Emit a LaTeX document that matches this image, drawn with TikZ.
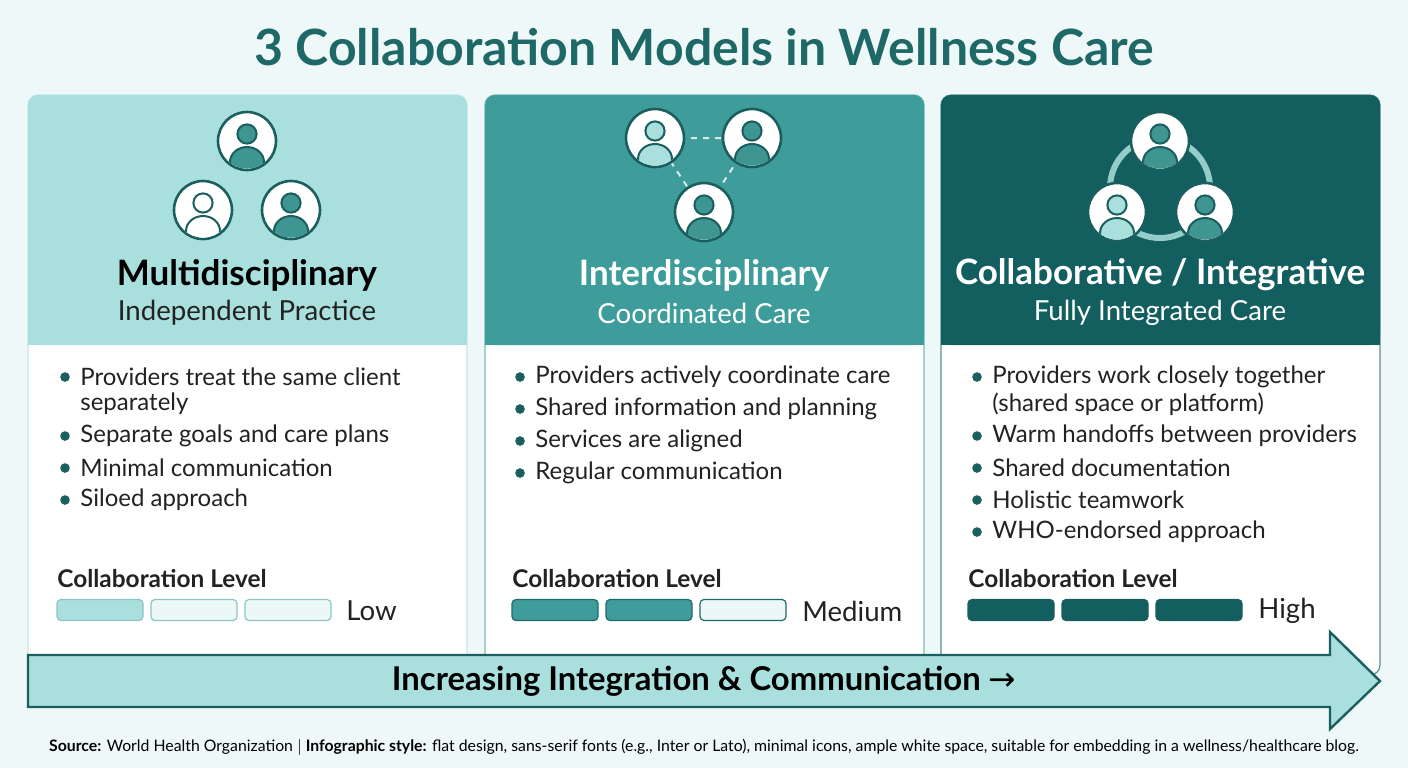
\documentclass[tikz,border=0pt]{standalone}
\usepackage{fontspec}
\setmainfont{Lato}
\newfontfamily\dejavu{DejaVu Sans}
\usetikzlibrary{shapes.geometric,calc}
\definecolor{bg}{HTML}{EFF8F8}
\definecolor{dk}{HTML}{1B5E5E}
\definecolor{ttl}{HTML}{1F6868}
\definecolor{hA}{HTML}{A9DFDC}
\definecolor{hB}{HTML}{3E9C9A}
\definecolor{hC}{HTML}{135F5F}
\definecolor{bA}{HTML}{D9F0EF}
\definecolor{mid}{HTML}{3E9592}
\definecolor{txt}{HTML}{222222}
\newcommand\personicon[4]{%
  \node[circle,draw=dk,line width=1.3pt,fill=white,minimum size=29pt,inner sep=0pt] (#1) at (#2) {};
  \begin{scope}
    \clip (#2) circle[radius=13.8pt];
    \fill[#3,draw=dk,line width=1pt] ($(#2)+(0,21)$) ellipse[x radius=8.5pt,y radius=7.5pt];
  \end{scope}
  \fill[#4,draw=dk,line width=1pt] ($(#2)+(0,-7)$) circle[radius=4.8pt];
}
\tikzset{
  bullet/.style={anchor=west,inner sep=0pt,font=\fontsize{12}{14}\selectfont,text=txt,align=left},
  lvl/.style={anchor=west,inner sep=0pt,font=\bfseries\fontsize{12.2}{14}\selectfont,text=txt},
  bar/.style={rounded corners=2pt,line width=0.6pt,minimum width=43pt,minimum height=10.5pt,inner sep=0pt},
  ptitle/.style={font=\bfseries\fontsize{17.5}{20}\selectfont},
  psub/.style={font=\fontsize{13.8}{16}\selectfont},
}
\begin{document}
\begin{tikzpicture}[x=0.5pt,y=-0.5pt]
\useasboundingbox (0,0) rectangle (1408,768);
\fill[bg] (0,0) rectangle (1408,768);
\node[font=\bfseries\fontsize{25}{28}\selectfont,text=ttl] (title) at (704,47) {3 Collaboration Models in Wellness Care};
% panels
\foreach \x/\c in {28/hA,485/hB,941/hC}{
  \fill[white,draw=\c!70!white,line width=0.6pt,rounded corners=5pt] (\x,95) rectangle ++(439,580);
  \fill[\c,rounded corners=5pt] (\x,95) rectangle ++(439,250);
  \fill[\c] (\x,300) rectangle ++(439,45);
}
% panel 1 icons
\personicon{a1}{247,141}{mid}{mid}
\personicon{a2}{203,210}{white}{white}
\personicon{a3}{291,210}{mid}{mid}
% panel 2 icons
\draw[white!80!hB,dashed,line width=1pt] (655,138) -- (752,138) -- (704,212) -- cycle;
\personicon{b1}{655,138}{hA}{hA}
\personicon{b2}{752,138}{mid}{mid}
\personicon{b3}{704,212}{mid}{mid}
% panel 3 icons
\draw[hA!85!hC,line width=3pt] (1160,188) circle[radius=25pt];
\personicon{c1}{1160,141}{mid}{mid}
\personicon{c2}{1117,212}{hA}{hA}
\personicon{c3}{1205,212}{mid}{mid}
% headings
\node[ptitle,text=black] (t1) at (247,275) {Multidisciplinary};
\node[psub,text=txt] (s1) at (247,313) {Independent Practice};
\node[ptitle,text=white] (t2) at (704,275) {Interdisciplinary};
\node[psub,text=white] (s2) at (704,313) {Coordinated Care};
\node[ptitle,text=white] (t3) at (1160,275) {Collaborative / Integrative};
\node[psub,text=white] (s3) at (1160,313) {Fully Integrated Care};
% bullets
\newcommand\bul[3]{\fill[dk] (#1,#2) circle[radius=2.4pt]; \node[bullet] at (#1+15,#2) {#3};}
\bul{65}{377}{Providers treat the same client}
\node[bullet] at (80,404) {separately};
\bul{65}{436}{Separate goals and care plans}
\bul{65}{468}{Minimal communication}
\bul{65}{500}{Siloed approach}
\bul{520}{377}{Providers actively coordinate care}
\bul{520}{409}{Shared information and planning}
\bul{520}{441}{Services are aligned}
\bul{520}{473}{Regular communication}
\bul{977}{377}{Providers work closely together}
\node[bullet] at (992,404) {(shared space or platform)};
\bul{977}{436}{Warm handoffs between providers}
\bul{977}{468}{Shared documentation}
\bul{977}{500}{Holistic teamwork}
\bul{977}{532}{WHO-endorsed approach}
% levels
\node[lvl] (l1) at (57,579) {Collaboration Level};
\node[lvl] (l2) at (512,579) {Collaboration Level};
\node[lvl] (l3) at (968,579) {Collaboration Level};
\node[bar,fill=hA,draw=hA!80!dk] (p11) at (100,610) {};
\node[bar,fill=bA!50!white,draw=hA!80!dk] (p12) at (194,610) {};
\node[bar,fill=bA!50!white,draw=hA!80!dk] (p13) at (288,610) {};
\node[psub,anchor=west,inner sep=0pt,text=txt] (low) at (346,611) {Low};
\node[bar,fill=hB,draw=dk!80!hB] (p21) at (555,610) {};
\node[bar,fill=hB,draw=dk!80!hB] (p22) at (649,610) {};
\node[bar,fill=bA!50!white,draw=dk!80!hB] (p23) at (743,610) {};
\node[psub,anchor=west,inner sep=0pt,text=txt] (med) at (802,611) {Medium};
\node[bar,fill=hC,draw=dk] (p31) at (1011,610) {};
\node[bar,fill=hC,draw=dk] (p32) at (1105,610) {};
\node[bar,fill=hC,draw=dk] (p33) at (1199,610) {};
\node[psub,anchor=west,inner sep=0pt,text=txt] (hi) at (1258,611) {High};
% arrow
\fill[hA,draw=dk,line width=1.2pt,line join=miter] (28,655) -- (1330,655) -- (1330,632) -- (1380,681) -- (1330,729) -- (1330,707) -- (28,707) -- cycle;
\node[font=\bfseries\fontsize{16.4}{19}\selectfont,text=black] (arr) at (704,681) {Increasing Integration \& Communication {\dejavu\mdseries →}};
% footer
\node[font=\fontsize{7.9}{9}\selectfont,text=black] (foot) at (704,747) {\textbf{Source:} World Health Organization $|$ \textbf{Infographic style:} flat design, sans-serif fonts (e.g., Inter or Lato), minimal icons, ample white space, suitable for embedding in a wellness/healthcare blog.};
\end{tikzpicture}
\end{document}
